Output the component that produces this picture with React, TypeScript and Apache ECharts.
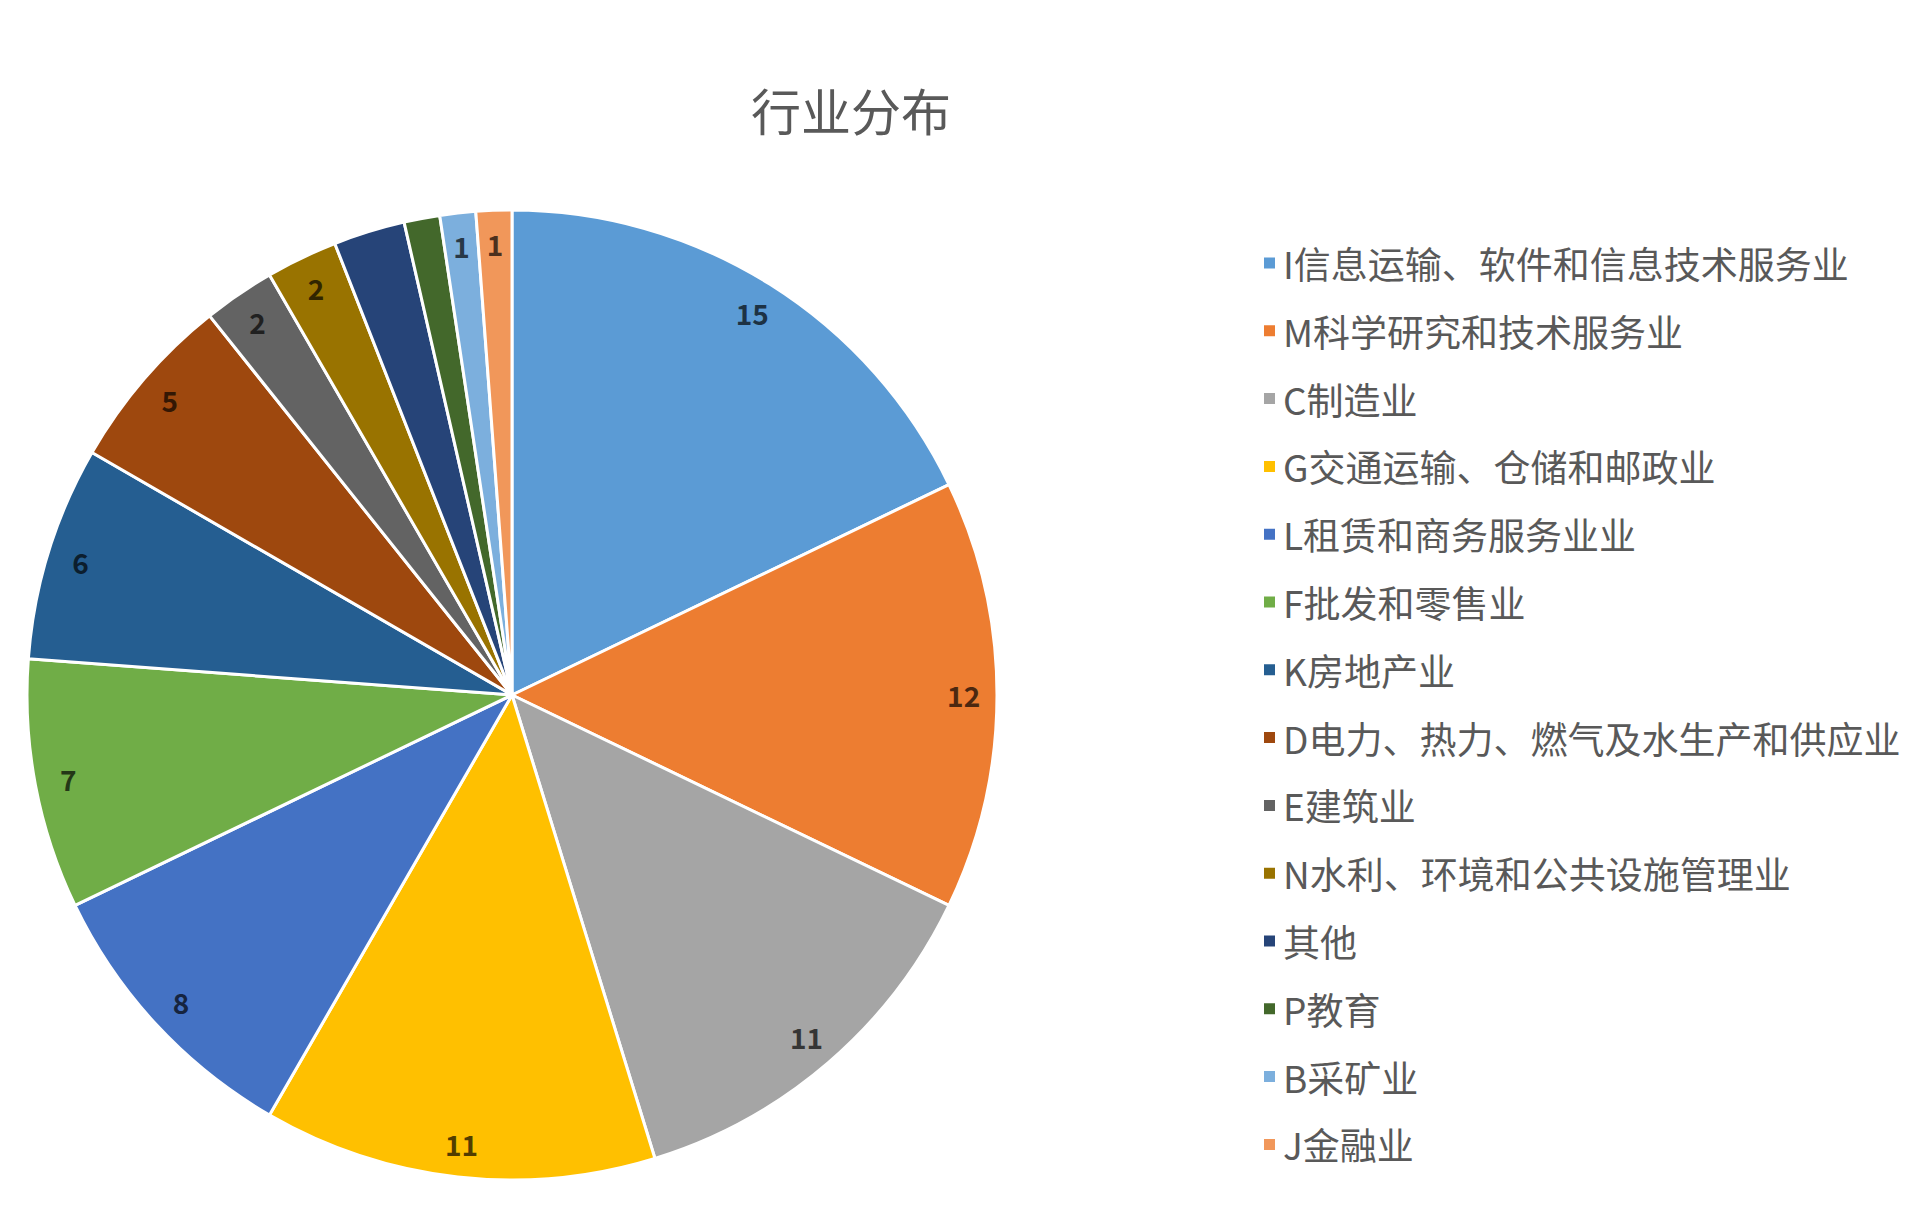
import React, { useEffect, useRef } from "react";
import * as echarts from "echarts";

const categories = [
  "I信息运输、软件和信息技术服务业",
  "M科学研究和技术服务业",
  "C制造业",
  "G交通运输、仓储和邮政业",
  "L租赁和商务服务业业",
  "F批发和零售业",
  "K房地产业",
  "D电力、热力、燃气及水生产和供应业",
  "E建筑业",
  "N水利、环境和公共设施管理业",
  "其他",
  "P教育",
  "B采矿业",
  "J金融业",
];
const values = [15, 12, 11, 11, 8, 7, 6, 5, 2, 2, 2, 1, 1, 1];
const colors = [
  "#5B9BD5", "#ED7D31", "#A5A5A5", "#FFC000", "#4472C4", "#70AD47", "#255E91",
  "#9E480E", "#636363", "#997300", "#264478", "#43682B", "#7CAFDD", "#F1975A",
];
// labels not visible in the reference
const hiddenLabels = ["其他", "P教育"];
const titleText = "行业分布";

function darken(hex: string, f: number): string {
  const n = parseInt(hex.slice(1), 16);
  const r = Math.round(((n >> 16) & 255) * f);
  const g = Math.round(((n >> 8) & 255) * f);
  const b = Math.round((n & 255) * f);
  return `rgb(${r},${g},${b})`;
}

const FONT = "'Noto Sans CJK SC', 'Noto Sans', sans-serif";

export default function App() {
  const ref = useRef<HTMLDivElement>(null);
  useEffect(() => {
    if (!ref.current) return;
    const chart = echarts.init(ref.current, null, { renderer: "svg" });
    const data = categories.map((name, i) => ({
      name,
      value: values[i],
      itemStyle: { color: colors[i] },
    }));
    const labelData = categories.map((name, i) => ({
      name,
      value: values[i],
      label: {
        show: hiddenLabels.indexOf(name) < 0,
        color: darken(colors[i], 0.32),
      },
    }));
    const center = [512, 695];
    const R = 485;
    chart.setOption({
      animation: false,
      backgroundColor: "#ffffff",
      title: {
        text: titleText,
        left: 751,
        top: 84,
        padding: 0,
        textStyle: { fontFamily: FONT, fontSize: 50, fontWeight: "normal", color: "#595959" },
      },
      legend: {
        orient: "vertical",
        left: 1262,
        top: 243,
        padding: 0,
        icon: "rect",
        itemWidth: 13,
        itemHeight: 13,
        itemGap: 27.8,
        data: categories,
        textStyle: {
          fontFamily: FONT,
          fontSize: 37,
          lineHeight: 40,
          color: "#595959",
          padding: [0, 0, 0, 2],
        },
        selectedMode: false,
      },
      series: [
        {
          type: "pie",
          center,
          radius: [0, R],
          startAngle: 90,
          clockwise: true,
          avoidLabelOverlap: false,
          label: { show: false },
          labelLine: { show: false },
          itemStyle: { borderColor: "#ffffff", borderWidth: 3 },
          emphasis: { disabled: true },
          data,
        },
        {
          type: "pie",
          center,
          radius: [R * 0.85, R],
          startAngle: 90,
          clockwise: true,
          silent: true,
          avoidLabelOverlap: false,
          itemStyle: { color: "rgba(0,0,0,0)", borderWidth: 0 },
          label: {
            show: true,
            position: "inside",
            formatter: "{c}",
            fontFamily: FONT,
            fontSize: 28,
            fontWeight: 600,
          },
          labelLine: { show: false },
          emphasis: { disabled: true },
          data: labelData,
        },
      ],
    });
    return () => chart.dispose();
  }, []);
  return (
    <div
      ref={ref}
      style={{ position: "fixed", left: 0, top: 0, width: 1920, height: 1230 }}
    />
  );
}
